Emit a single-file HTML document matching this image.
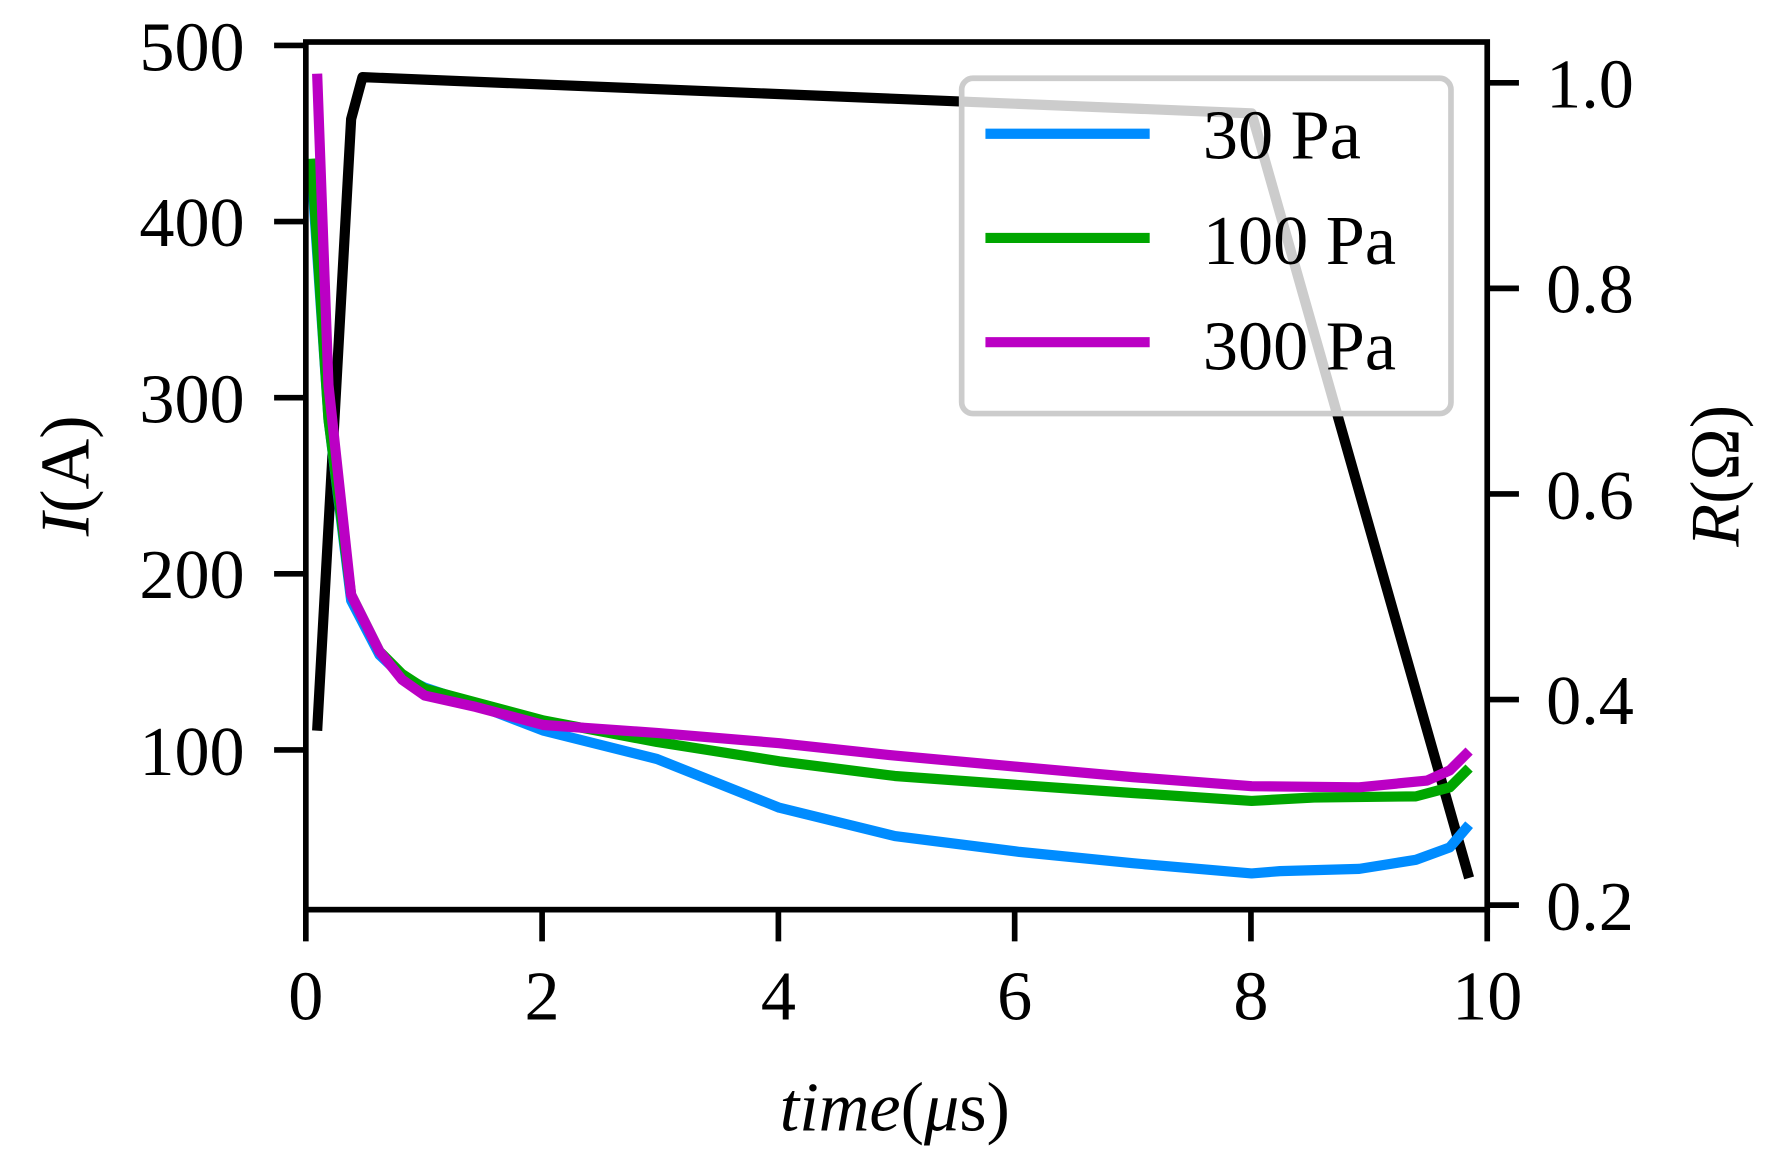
<!DOCTYPE html>
<html><head><style>body{margin:0;background:#fff}svg{display:block}</style></head><body>
<svg width="1767" height="1168" viewBox="0 0 1560 1031" xmlns="http://www.w3.org/2000/svg" font-family="'Liberation Serif', serif">
<g fill="none" stroke-linejoin="round" stroke-width="9">
<polyline stroke="#000" points="280,645 310,105 320,68 1105,100 1297,775"/>
<polyline stroke="#008cff" points="275,150 290,370 310,530 335,578 355,597 375,607 420,622 480,645 580,670 688,713 790,738 900,752 1000,762 1105,771 1130,769 1200,767 1250,759 1280,748 1297,728"/>
<polyline stroke="#00a600" points="275,140 290,370 310,525 335,575 355,595 375,608 420,620 480,636 580,655 688,672 790,685 900,693 1000,700 1105,707 1160,704 1250,703 1280,695 1297,678"/>
<polyline stroke="#bb00c4" points="280,65 290,340 310,525 335,575 355,600 375,614 420,624 480,640 580,647 688,656 790,667 900,677 1000,686 1105,694 1200,695 1260,689 1280,680 1297,663"/>
</g>
<rect x="270" y="37" width="1043" height="766" fill="none" stroke="#000" stroke-width="5"/>
<g stroke="#000" stroke-width="5">
<line x1="270" y1="803" x2="270" y2="831"/><line x1="478.6" y1="803" x2="478.6" y2="831"/><line x1="687.2" y1="803" x2="687.2" y2="831"/><line x1="895.8" y1="803" x2="895.8" y2="831"/><line x1="1104.4" y1="803" x2="1104.4" y2="831"/><line x1="1313" y1="803" x2="1313" y2="831"/>
<line x1="242" y1="40" x2="270" y2="40"/><line x1="242" y1="195.5" x2="270" y2="195.5"/><line x1="242" y1="351" x2="270" y2="351"/><line x1="242" y1="506.5" x2="270" y2="506.5"/><line x1="242" y1="662" x2="270" y2="662"/>
<line x1="1313" y1="73" x2="1341" y2="73"/><line x1="1313" y1="254.5" x2="1341" y2="254.5"/><line x1="1313" y1="436" x2="1341" y2="436"/><line x1="1313" y1="617.5" x2="1341" y2="617.5"/><line x1="1313" y1="799" x2="1341" y2="799"/>
</g>
<g font-size="62" fill="#000" text-anchor="middle">
<text x="270" y="900">0</text><text x="478.6" y="900">2</text><text x="687.2" y="900">4</text><text x="895.8" y="900">6</text><text x="1104.4" y="900">8</text><text x="1313" y="900">10</text>
</g>
<g font-size="62" fill="#000" text-anchor="end">
<text x="216" y="62">500</text><text x="216" y="217">400</text><text x="216" y="373">300</text><text x="216" y="528">200</text><text x="216" y="684">100</text>
</g>
<g font-size="62" fill="#000">
<text x="1365" y="95">1.0</text><text x="1365" y="276">0.8</text><text x="1365" y="458">0.6</text><text x="1365" y="639">0.4</text><text x="1365" y="821">0.2</text>
</g>
<text x="790" y="998" font-size="62" text-anchor="middle"><tspan font-style="italic">time</tspan>(<tspan font-style="italic">μ</tspan>s)</text>
<text transform="translate(78,420) rotate(-90)" font-size="62" text-anchor="middle"><tspan font-style="italic">I</tspan>(A)</text>
<text transform="translate(1535,420) rotate(-90)" font-size="62" text-anchor="middle"><tspan font-style="italic">R</tspan>(Ω)</text>
<rect x="849" y="69" width="432" height="296" rx="10" fill="#fff" fill-opacity="0.8" stroke="#ccc" stroke-width="5"/>
<g stroke-width="9"><line x1="870" y1="118" x2="1015" y2="118" stroke="#008cff"/><line x1="870" y1="210" x2="1015" y2="210" stroke="#00a600"/><line x1="870" y1="302" x2="1015" y2="302" stroke="#bb00c4"/></g>
<g font-size="62" fill="#000"><text x="1062" y="140">30 Pa</text><text x="1062" y="233">100 Pa</text><text x="1062" y="326">300 Pa</text></g>
</svg>
</body></html>
